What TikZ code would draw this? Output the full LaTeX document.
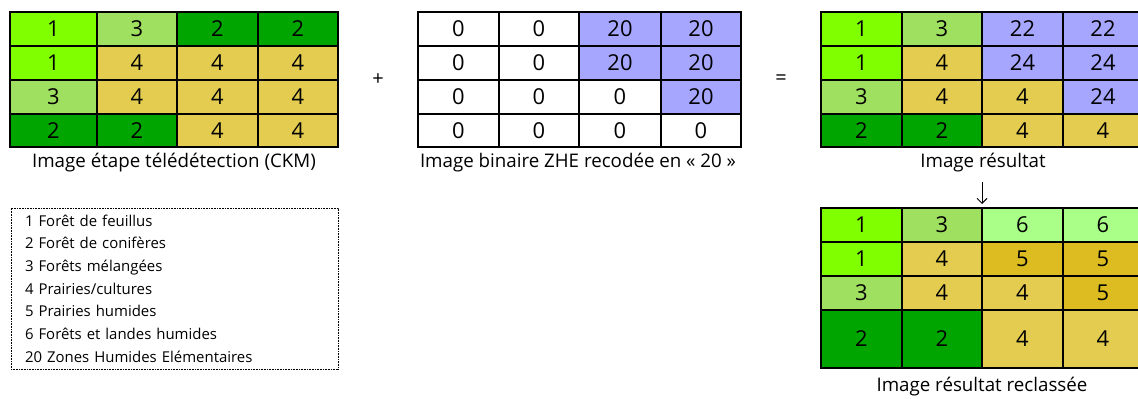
\documentclass[tikz,border=0pt]{standalone}
\usepackage{fontspec}
\setmainfont{Open Sans}
\usetikzlibrary{arrows.meta}
\definecolor{cA}{RGB}{128,255,0}
\definecolor{cB}{RGB}{0,165,0}
\definecolor{cC}{RGB}{160,224,96}
\definecolor{cD}{RGB}{228,204,80}
\definecolor{cE}{RGB}{220,188,32}
\definecolor{cF}{RGB}{170,255,136}
\definecolor{cZ}{RGB}{166,166,255}
\definecolor{cW}{RGB}{255,255,255}
\tikzset{
  cellbox/.style={draw=black, line width=2bp, rectangle, inner sep=0pt, outer sep=0pt, font=\fontsize{22}{24}\selectfont},
  caption/.style={font=\fontsize{18.8}{22}\selectfont, inner sep=0pt},
  opsign/.style={font=\fontsize{20}{22}\selectfont, inner sep=0pt},
  legendbox/.style={draw=black, line width=0.8bp, dash pattern=on 1bp off 0.6bp, rectangle, anchor=north west, outer sep=0pt,
     minimum width=327bp, minimum height=161bp, inner xsep=14bp, text width=299bp, align=left,
     font=\fontsize{15}{22.8}\selectfont},
  flowarrow/.style={line width=0.9bp, -{Straight Barb[length=5bp,width=10bp]}}
}
\newcommand\drawgrid[4]{%
  \foreach \c/\r/\f/\t in {#4}{%
    \pgfmathsetmacro\xa{{#2}[\c]}%
    \pgfmathsetmacro\xb{{#2}[\c+1]}%
    \pgfmathsetmacro\ya{{#3}[\r]}%
    \pgfmathsetmacro\yb{{#3}[\r+1]}%
    \node[cellbox, fill=\f, minimum width={(\xb-\xa)*1bp}, minimum height={(\yb-\ya)*1bp}]
      (#1-\r-\c) at ({(\xa+\xb)/2},{(\ya+\yb)/2}) {\t};
  }}
\begin{document}
\begin{tikzpicture}[x=1bp,y=-1bp]
\useasboundingbox[fill=white] (0,0) rectangle (1138,398);
% grid 1
\drawgrid{ga}{10,97,177,258,338}{12,46,80,114,147}{%
 0/0/cA/1,1/0/cC/3,2/0/cB/2,3/0/cB/2,
 0/1/cA/1,1/1/cD/4,2/1/cD/4,3/1/cD/4,
 0/2/cC/3,1/2/cD/4,2/2/cD/4,3/2/cD/4,
 0/3/cB/2,1/3/cB/2,2/3/cD/4,3/3/cD/4}
% grid 2
\drawgrid{gb}{418,499,579,661,741}{12,46,80,114,147}{%
 0/0/cW/0,1/0/cW/0,2/0/cZ/20,3/0/cZ/20,
 0/1/cW/0,1/1/cW/0,2/1/cZ/20,3/1/cZ/20,
 0/2/cW/0,1/2/cW/0,2/2/cW/0,3/2/cZ/20,
 0/3/cW/0,1/3/cW/0,2/3/cW/0,3/3/cW/0}
% grid 3
\drawgrid{gc}{821,902,982,1063,1143}{12,46,80,114,147}{%
 0/0/cA/1,1/0/cC/3,2/0/cZ/22,3/0/cZ/22,
 0/1/cA/1,1/1/cD/4,2/1/cZ/24,3/1/cZ/24,
 0/2/cC/3,1/2/cD/4,2/2/cD/4,3/2/cZ/24,
 0/3/cB/2,1/3/cB/2,2/3/cD/4,3/3/cD/4}
% grid 4
\drawgrid{gd}{821,902,982,1063,1143}{208,242,276,310,368}{%
 0/0/cA/1,1/0/cC/3,2/0/cF/6,3/0/cF/6,
 0/1/cA/1,1/1/cD/4,2/1/cE/5,3/1/cE/5,
 0/2/cC/3,1/2/cD/4,2/2/cD/4,3/2/cE/5,
 0/3/cB/2,1/3/cB/2,2/3/cD/4,3/3/cD/4}
% captions
\node[caption] (capa) at (174,163) {Image étape télédétection (CKM)};
\node[caption] (capb) at (578,163) {Image binaire ZHE recodée en « 20 »};
\node[caption] (capc) at (983,163) {Image résultat};
\node[caption] (capd) at (982,387) {Image résultat reclassée};
% operators
\node[opsign] (plus) at (378,80) {+};
\node[opsign] (equal) at (781,80) {=};
% arrow
\coordinate (arrtop) at (982,182);
\coordinate (arrbot) at (982,204);
\draw[flowarrow] (arrtop) -- (arrbot);
% legend
\node[legendbox] (legend) at (11,208) {1 Forêt de feuillus\\
2 Forêt de conifères\\
3 Forêts mélangées\\
4 Prairies/cultures\\
5 Prairies humides\\
6 Forêts et landes humides\\
20 Zones Humides Elémentaires};
\end{tikzpicture}
\end{document}
